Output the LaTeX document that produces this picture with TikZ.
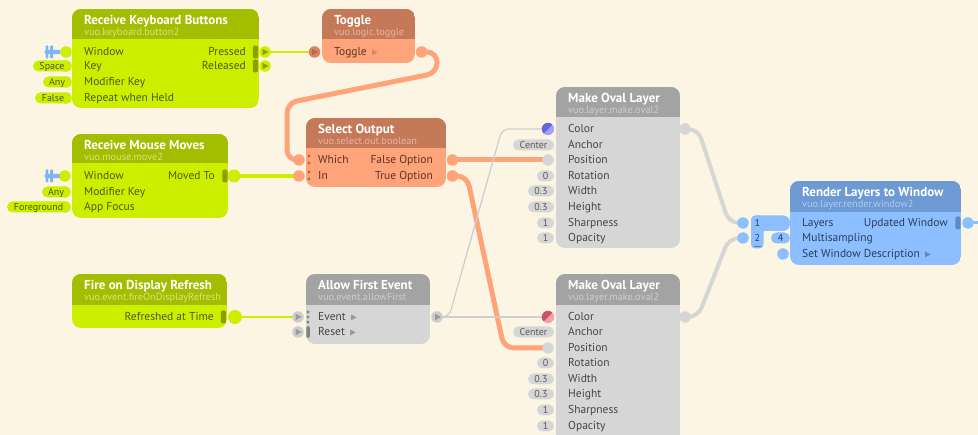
\documentclass[tikz,border=0pt]{standalone}
\usepackage{fontspec}
\setmainfont{PT Sans}
\definecolor{bg}{HTML}{FCF5E3}
\definecolor{gT}{HTML}{A3BD00}
\definecolor{gB}{HTML}{CCEF00}
\definecolor{gS}{HTML}{D4E67A}
\definecolor{gX}{HTML}{4E5A08}
\definecolor{gD}{HTML}{8C9F00}
\definecolor{sT}{HTML}{C47959}
\definecolor{sB}{HTML}{FFA37B}
\definecolor{sS}{HTML}{EDB39B}
\definecolor{sX}{HTML}{5E3422}
\definecolor{sD}{HTML}{D88462}
\definecolor{sM}{HTML}{B8694A}
\definecolor{yT}{HTML}{A3A3A3}
\definecolor{yB}{HTML}{D6D6D6}
\definecolor{yS}{HTML}{CDCDCD}
\definecolor{yX}{HTML}{454545}
\definecolor{yD}{HTML}{9A9A9A}
\definecolor{yP}{HTML}{5A5A5A}
\definecolor{yW}{HTML}{CFCFCF}
\definecolor{bT}{HTML}{6D9AD3}
\definecolor{bB}{HTML}{8DBEFF}
\definecolor{bS}{HTML}{AECBF0}
\definecolor{bX}{HTML}{2C3F5E}
\definecolor{bD}{HTML}{5F89C2}
\definecolor{plugc}{HTML}{80B3F8}
\definecolor{cA}{HTML}{6464DC}
\definecolor{cB}{HTML}{A0A0FF}
\definecolor{rA}{HTML}{C85464}
\definecolor{rB}{HTML}{F5A0AA}
\pgfdeclarelayer{back}
\pgfdeclarelayer{wires}
\pgfsetlayers{back,wires,main}
\tikzset{
 ttl/.style={font=\bfseries\fontsize{13}{14}\selectfont, text=white, anchor=base west, inner sep=0},
 sub/.style={font=\fontsize{10.3}{11}\selectfont, anchor=base west, inner sep=0},
 lab/.style={font=\fontsize{11.5}{12}\selectfont, anchor=base west, inner sep=0},
 rlab/.style={lab, anchor=base east},
 pilltxt/.style={font=\fontsize{10}{11}\selectfont, anchor=base, inner sep=0},
 port/.style={circle, inner sep=0, minimum size=11.5pt},
 wire/.style={line cap=round, line join=round, rounded corners=10pt},
}
% node box: name, x1, y1, x2, y2, title bottom, colour prefix, title, subtitle
\newcommand\vnode[9]{%
 \begin{scope}
 \clip[rounded corners=9pt] (#2,#3) rectangle (#4,#5);
 \fill[#7B] (#2,#3) rectangle (#4,#5);
 \fill[#7T] (#2,#3) rectangle (#4,#6);
 \end{scope}
 \node[ttl] (#1) at (#2+12,#3+15.5) {#8};
 \node[sub, text=#7S] (#1-id) at (#2+12,#3+27) {#9};
}
\newcommand\lab[5]{\node[lab,text=#4] (#1) at (#2,#3+4) {#5};}
\newcommand\rlab[5]{\node[rlab,text=#4] (#1) at (#2,#3+4) {#5};}
\newcommand\port[4]{\node[port,fill=#4] (#1) at (#2,#3) {};}
\newcommand\pill[7]{%
 \fill[#5,rounded corners=5.5pt] (#2,#4-5.5) rectangle (#3,#4+5.5);
 \node[pilltxt,text=#6] (#1) at ({(#2+#3)/2},#4+3.5) {#7};}
\newcommand\evtri[3]{\fill[#3] (#1-2.5,#2-3.2) -- (#1-2.5,#2+3.2) -- (#1+3.5,#2) -- cycle;}
\newcommand\tri[2]{\fill[#2] ([xshift=5pt,yshift=0.6pt]#1.base east) -- ([xshift=5pt,yshift=6.6pt]#1.base east) -- ([xshift=10.5pt,yshift=3.6pt]#1.base east) -- cycle;}
\newcommand\trigbar[3]{\fill[#3,rounded corners=2pt] (#1-2.6,#2-6.5) rectangle (#1+2.6,#2+6.5);}
\newcommand\plug[1]{%
 \fill[plugc,rounded corners=1.5pt] (44.5,#1-2.2) rectangle (61,#1+2.2);
 \fill[plugc,rounded corners=1pt] (45.5,#1-6.5) rectangle (48.3,#1+6.5);
 \fill[plugc,rounded corners=1pt] (50.2,#1-6.5) rectangle (53,#1+6.5);}
\newcommand\colport[5]{%
 \node[port] (#1) at (#2,#3) {};
 \begin{scope}
 \clip (#2,#3) circle (6.2pt);
 \fill[#5] (#2,#3) circle (6.2pt);
 \fill[#4] (#2-7,#3+7) -- (#2-7,#3-7) -- (#2+7,#3-7) -- cycle;
 \end{scope}}
\begin{document}
\begin{tikzpicture}[x=1pt,y=-1pt]
\begin{pgfonlayer}{back}
\fill[bg] (0,0) rectangle (978,435);
\end{pgfonlayer}
\useasboundingbox (0,0) rectangle (978,435);
\clip (0,0) rectangle (978,435);

% ---------- Receive Keyboard Buttons
\vnode{kb}{72}{9}{259}{108}{39}{g}{Receive Keyboard Buttons}{vuo.keyboard.button2}
\lab{kb-l1}{84}{52}{gX}{Window}
\lab{kb-l2}{84}{66}{gX}{Key}
\lab{kb-l3}{84}{82}{gX}{Modifier Key}
\lab{kb-l4}{84}{98}{gX}{Repeat when Held}
\rlab{kb-r1}{246}{52}{gX}{Pressed}
\rlab{kb-r2}{246}{66}{gX}{Released}
\plug{52}
\port{kb-win}{66}{52}{gB}
\port{kb-key}{66}{66}{gB}
\port{kb-mod}{66}{82}{gB}
\port{kb-rep}{66}{98}{gB}
\pill{kb-v2}{33}{71}{66}{gB}{gX}{Space}
\pill{kb-v3}{43}{71}{82}{gB}{gX}{Any}
\pill{kb-v4}{35}{71}{98}{gB}{gX}{False}
\trigbar{255.5}{52}{gD}
\trigbar{255.5}{66}{gD}
\port{kb-pr}{265}{52}{gB}
\port{kb-rel}{265}{66}{gB}
\evtri{265}{52}{gD}
\evtri{265}{66}{gD}

% ---------- Toggle
\vnode{tg}{322}{9}{415}{63}{39}{s}{Toggle}{vuo.logic.toggle}
\lab{tg-l1}{334}{52}{sX}{Toggle}
\tri{tg-l1}{sD}
\port{tg-in}{314.5}{52}{sD}
\evtri{314.5}{52}{sM}
\port{tg-out}{421.5}{52}{sB}

% ---------- Receive Mouse Moves
\vnode{mm}{72}{134}{228}{218}{163}{g}{Receive Mouse Moves}{vuo.mouse.move2}
\lab{mm-l1}{84}{176}{gX}{Window}
\lab{mm-l2}{84}{192}{gX}{Modifier Key}
\lab{mm-l3}{84}{207}{gX}{App Focus}
\rlab{mm-r1}{215}{176}{gX}{Moved To}
\plug{176}
\port{mm-win}{65}{176}{gB}
\port{mm-mod}{65}{192}{gB}
\port{mm-app}{65}{207}{gB}
\pill{mm-v2}{42}{70}{192}{gB}{gX}{Any}
\pill{mm-v3}{7}{70}{207}{gB}{gX}{Foreground}
\trigbar{225}{176}{gD}
\node[port,fill=gB,minimum size=13pt] (mm-out) at (234,176) {};

% ---------- Select Output
\vnode{so}{306}{118}{446}{187}{148}{s}{Select Output}{vuo.select.out.boolean}
\lab{so-l1}{318}{160}{sX}{Which}
\lab{so-l2}{318}{176}{sX}{In}
\rlab{so-r1}{433}{160}{sX}{False Option}
\rlab{so-r2}{433}{176}{sX}{True Option}
\port{so-which}{299}{160}{sB}
\port{so-in}{299}{176}{sB}
\foreach \yy in {156,163,172,179} \fill[sM] (309,\yy) circle (1.7pt);
\port{so-false}{452.5}{160}{sB}
\port{so-true}{452.5}{176}{sB}

% ---------- Fire on Display Refresh
\vnode{fr}{72}{274}{227}{328}{305}{g}{Fire on Display Refresh}{vuo.event.fireOnDisplayRefresh}
\rlab{fr-r1}{214}{317}{gX}{Refreshed at Time}
\trigbar{223.5}{317}{gD}
\node[port,fill=gB,minimum size=14pt] (fr-out) at (235,317) {};

% ---------- Allow First Event
\vnode{af}{306}{274}{430}{344}{305}{y}{Allow First Event}{vuo.event.allowFirst}
\lab{af-l1}{318}{317}{yX}{Event}
\tri{af-l1}{yD}
\lab{af-l2}{318}{332}{yX}{Reset}
\tri{af-l2}{yD}
\port{af-ev}{298}{317}{yS}
\port{af-rs}{298}{332}{yS}
\evtri{298}{317}{yD}
\evtri{298}{332}{yD}
\foreach \yy in {312,317,322} \fill[yD!85!black] (308,\yy) circle (1.7pt);
\fill[yD!85!black,rounded corners=1.5pt] (306.3,326) rectangle (309.8,338);
\port{af-out}{437}{317}{yS}
\evtri{437.5}{317}{yD}

% ---------- Make Oval Layer (top)
\vnode{o1}{556}{87}{680}{248}{117}{y}{Make Oval Layer}{vuo.layer.make.oval2}
\lab{o1-l1}{568}{129}{yX}{Color}
\lab{o1-l2}{568}{145}{yX}{Anchor}
\lab{o1-l3}{568}{160}{yX}{Position}
\lab{o1-l4}{568}{176}{yX}{Rotation}
\lab{o1-l5}{568}{191}{yX}{Width}
\lab{o1-l6}{568}{207}{yX}{Height}
\lab{o1-l7}{568}{223}{yX}{Sharpness}
\lab{o1-l8}{568}{238}{yX}{Opacity}
\pill{o1-v2}{513}{554}{145}{yB}{yP}{Center}
\pill{o1-v4}{537}{554}{176}{yB}{yP}{0}
\pill{o1-v5}{528}{554}{191}{yB}{yP}{0.3}
\pill{o1-v6}{528}{554}{207}{yB}{yP}{0.3}
\pill{o1-v7}{537}{554}{223}{yB}{yP}{1}
\pill{o1-v8}{537}{554}{238}{yB}{yP}{1}
\colport{o1-col}{548}{129}{cA}{cB}
\port{o1-pos}{548}{160}{yB}
\port{o1-out}{685}{129}{yB}

% ---------- Make Oval Layer (bottom)
\vnode{o2}{556}{274}{680}{450}{305}{y}{Make Oval Layer}{vuo.layer.make.oval2}
\lab{o2-l1}{568}{317}{yX}{Color}
\lab{o2-l2}{568}{332}{yX}{Anchor}
\lab{o2-l3}{568}{348}{yX}{Position}
\lab{o2-l4}{568}{363}{yX}{Rotation}
\lab{o2-l5}{568}{379}{yX}{Width}
\lab{o2-l6}{568}{394}{yX}{Height}
\lab{o2-l7}{568}{410}{yX}{Sharpness}
\lab{o2-l8}{568}{426}{yX}{Opacity}
\pill{o2-v2}{513}{554}{332}{yB}{yP}{Center}
\pill{o2-v4}{537}{554}{363}{yB}{yP}{0}
\pill{o2-v5}{528}{554}{379}{yB}{yP}{0.3}
\pill{o2-v6}{528}{554}{394}{yB}{yP}{0.3}
\pill{o2-v7}{537}{554}{410}{yB}{yP}{1}
\pill{o2-v8}{537}{554}{426}{yB}{yP}{1}
\colport{o2-col}{548}{317}{rA}{rB}
\port{o2-pos}{548}{348}{yB}
\port{o2-out}{685}{317}{yB}

% ---------- Render Layers to Window
\vnode{rw}{790}{181}{961}{265}{212}{b}{Render Layers to Window}{vuo.layer.render.window2}
\lab{rw-l1}{802}{223}{bX}{Layers}
\lab{rw-l2}{802}{238}{bX}{Multisampling}
\lab{rw-l3}{802}{254}{bX}{Set Window Description}
\tri{rw-l3}{bD}
\rlab{rw-r1}{948}{223}{bX}{Updated Window}
\trigbar{958}{223}{bD}
\port{rw-out}{968}{223}{bB}
\fill[bB,rounded corners=4pt] (751,215.5) rectangle (763.5,248.5);
\fill[bB,rounded corners=7pt] (751,215.5) rectangle (790,231);
\node[pilltxt,text=bX] (rw-i1) at (757.3,226.5) {1};
\node[pilltxt,text=bX] (rw-i2) at (757.3,241.5) {2};
\draw[bX!70,line width=0.6] (754,246.5) -- (760.5,246.5);
\port{rw-l1p}{743}{223}{bB}
\port{rw-l2p}{743}{238}{bB}
\pill{rw-v2}{771}{790}{238}{bB}{bX}{4}
\port{rw-swd}{783}{254}{bB}

% ---------- connectors
\begin{pgfonlayer}{wires}
\draw[wire,gB,line width=1.5] (kb-pr.center) -- (tg-in.center);
\draw[wire,sB,line width=5] (tg-out.center) -- (437,52) -- (437,73) -- (287,103) -- (287,160) -- (so-which.center);
\draw[wire,gB,line width=4] (mm-out.center) -- (so-in.center);
\draw[wire,sB,line width=5] (so-false.center) -- (o1-pos.center);
\draw[wire,sB,line width=5] (so-true.center) -- (467,176) -- (504,348) -- (o2-pos.center);
\draw[wire,gB,line width=1.5] (fr-out.center) -- (af-ev.center);
\draw[wire,yW,line width=1.3,rounded corners=7pt] (af-out.center) -- (449,317) -- (502,129) -- (o1-col.center);
\draw[wire,yW,line width=1.3] (af-out.center) -- (o2-col.center);
\draw[wire,yB,line width=4] (o1-out.center) -- (698,129) -- (729,223) -- (rw-l1p.center);
\draw[wire,yB,line width=4] (o2-out.center) -- (698,317) -- (729,238) -- (rw-l2p.center);
\coordinate (edge) at (978,223);
\draw[wire,bB,line width=3] (rw-out.center) -- (edge);
\end{pgfonlayer}
\end{tikzpicture}
\end{document}
